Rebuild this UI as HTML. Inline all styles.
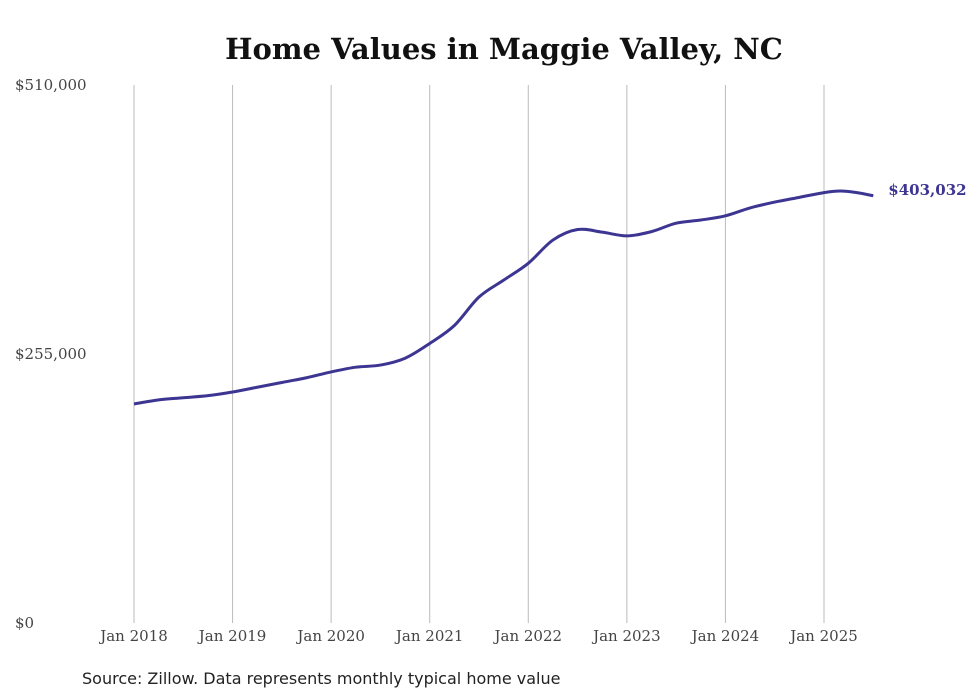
<!DOCTYPE html>
<html><head><meta charset="utf-8"><style>
body{margin:0;background:#fff;}
svg{display:block;font-family:"DejaVu Serif","Liberation Serif",serif;}
</style></head><body>
<svg width="980" height="699" viewBox="0 0 980 699">
<text x="504" y="59" text-anchor="middle" font-size="29" font-weight="bold" fill="#111">Home Values in Maggie Valley, NC</text>
<g id="grid"></g><g id="yt"></g><g id="xt"></g>
<path id="line" fill="none" stroke="#3d3592" stroke-width="3"/>
<text id="endlabel" font-size="15" font-weight="bold" fill="#3d3592"></text>
<text x="82" y="684" font-size="16" fill="#222" font-family="DejaVu Sans, sans-serif">Source: Zillow. Data represents monthly typical home value</text>
</svg>
<script>
const xLabels=["Jan 2018","Jan 2019","Jan 2020","Jan 2021","Jan 2022","Jan 2023","Jan 2024","Jan 2025"];
const yTicks=[0,255000,510000];
const yTickLabels=["$0","$255,000","$510,000"];
// months since Jan 2018
const months=[0,3,6,9,12,15,18,21,24,27,30,33,36,39,42,45,48,51,54,57,60,63,66,69,72,75,78,81,84,86,88,90];
const values=[207600,211500,213500,215500,219000,223500,228000,232500,238000,242500,244500,251000,265000,282000,309000,325000,341000,363000,373000,370500,367000,371000,379000,382000,386000,393500,399000,403500,408000,409500,408000,405000];
const lastLabel="$403,032";
const ns="http://www.w3.org/2000/svg";
const X=m=>134+m*(824-134)/84;
const Y=v=>623-v/510000*538;
const grid=document.getElementById('grid'),yt=document.getElementById('yt'),xt=document.getElementById('xt');
xLabels.forEach((l,i)=>{
 const ln=document.createElementNS(ns,'line');
 
 
 ln.setAttribute('x1',X(i*12));ln.setAttribute('x2',X(i*12));ln.setAttribute('y1',85);ln.setAttribute('y2',623);
 ln.setAttribute('stroke','#bbb');ln.setAttribute('stroke-width','1');grid.appendChild(ln);
 const t=document.createElementNS(ns,'text');
 
 
 t.setAttribute('x',X(i*12));t.setAttribute('y',641);t.setAttribute('text-anchor','middle');t.setAttribute('font-size','15');t.setAttribute('fill','#444');
 t.textContent=l;xt.appendChild(t);
});
yTicks.forEach((v,i)=>{
 const t=document.createElementNS(ns,'text');
 
 
 t.setAttribute('x',15);t.setAttribute('y',Y(v)+5);t.setAttribute('font-size','15');t.setAttribute('fill','#444');
 t.textContent=yTickLabels[i];yt.appendChild(t);
});
const pts=months.map((m,i)=>[X(m),Y(values[i])]);
let d=`M${pts[0][0]},${pts[0][1]}`;
for(let i=0;i<pts.length-1;i++){
 const p0=pts[Math.max(0,i-1)],p1=pts[i],p2=pts[i+1],p3=pts[Math.min(pts.length-1,i+2)];
 const c1=[p1[0]+(p2[0]-p0[0])/6,p1[1]+(p2[1]-p0[1])/6];
 const c2=[p2[0]-(p3[0]-p1[0])/6,p2[1]-(p3[1]-p1[1])/6];
 d+=` C${c1[0]},${c1[1]} ${c2[0]},${c2[1]} ${p2[0]},${p2[1]}`;
}
document.getElementById('line').setAttribute('d',d);
const el=document.getElementById('endlabel');
const lp=pts[pts.length-1];
el.setAttribute('x',lp[0]+15);el.setAttribute('y',lp[1]-1);el.textContent=lastLabel;
</script>
</body></html>
